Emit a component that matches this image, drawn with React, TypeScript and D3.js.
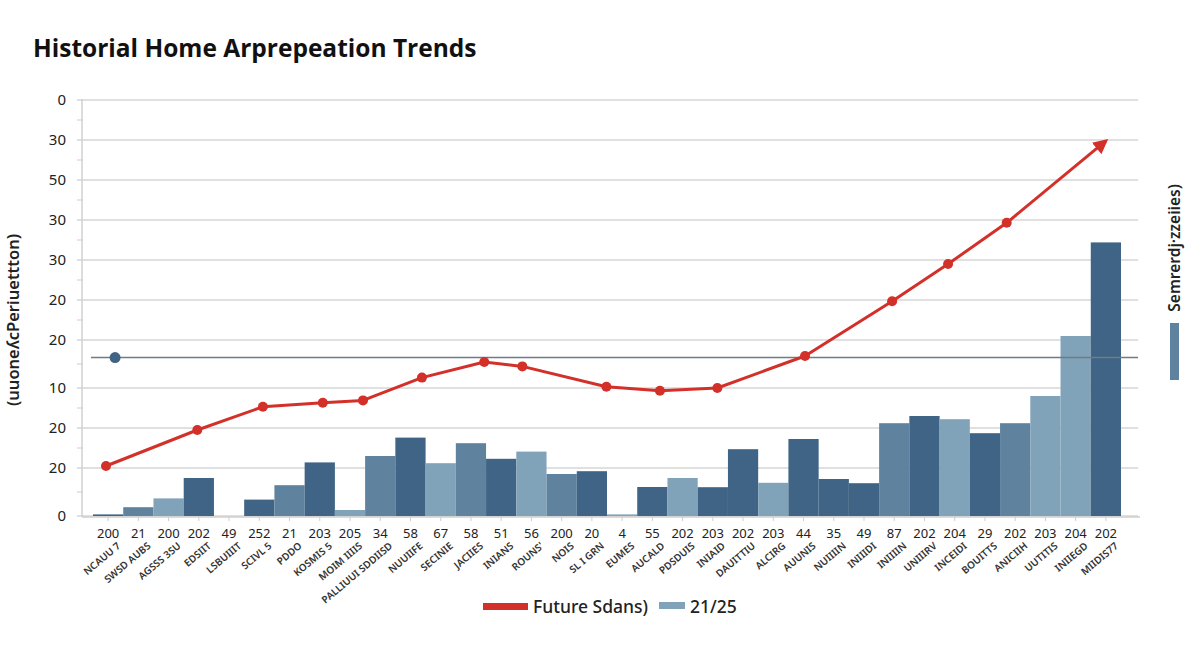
import React from "react";
import * as d3 from "d3";

const topLabels = ["200","21","200","202","49","252","21","203","205","34","58","67","58","51","56","200","20","4","55","202","203","202","203","44","35","49","87","202","204","29","202","203","204","202"];
const subLabels = ["NCAUU 7","SWSD AUBS","AGSSS 3SU","EDSIIT","LSBUIIIT","SCIVL 5","PDDO","KOSMIS 5","MOIM IIIIS","PALLIUUI SDDIISD","NUUIIFE","SECINIE","JACIIES","INIANS","ROUNS'","NOIS","SL I GRN","EUMES","AUCALD","PDSDUIS","INIAID","DAUITTIU","ALCIRG","AUUNIS","NUIIIIN","INIIIDI","INIIIIN","UNIIIRV","INCEIDI","BOUITTS","ANICIIH","UUTITIS","INIIEGD","MIIDIS77"];
const barValues = [0.4,2.2,4.4,9.5,0,4.1,7.7,13.4,1.5,15,19.6,13.2,18.2,14.3,16.1,10.5,11.2,0.4,7.25,9.5,7.2,16.7,8.3,19.25,9.25,8.2,23.2,25,24.2,20.7,23.2,30,45,68.4];
const barGroups = ["A","B","C","A","A","A","B","A","C","B","A","C","B","A","C","B","A","C","A","C","A","A","C","A","A","A","B","A","C","A","B","C","C","A"];
const lineX = [0.43,3.45,5.62,7.6,8.93,10.88,12.94,14.2,16.98,18.75,20.65,23.55,26.43,28.28,30.22];
const lineY = [12.5,21.5,27.3,28.3,28.9,34.6,38.5,37.4,32.3,31.3,32,40,53.7,63,73.3];
const arrowEnd = { x: 33.5, y: 93.8 };
const yTickValues = [0,12,22,32,44,54,64,74,84,94,104];
const yTickLabels = ["0","20","20","10","20","20","30","30","50","30","0"];
const refValue = 39.6;
const refDotX = 0.73;

const W = 1200, H = 654;

export default function App() {
  const x = d3.scaleBand<number>().domain(d3.range(barValues.length)).range([93, 1121]).padding(0);
  const xl = d3.scaleLinear().domain([0, barValues.length]).range([93, 1121]);
  const y = d3.scaleLinear().domain([0, 104]).range([516, 100]);
  const color = d3.scaleOrdinal<string, string>().domain(["A","B","C"]).range(["#3f6485","#5f829f","#80a3b9"]);
  const pts: [number, number][] = lineX.map((v, i) => [xl(v), y(lineY[i])]);
  const line = d3.line();
  const last = pts[pts.length - 1];
  const minor = yTickValues.slice(0, -1).map((v, i) => (y(v) + y(yTickValues[i + 1])) / 2);
  const font = "'Noto Sans', 'Open Sans', sans-serif";
  return (
    <svg width={W} height={H} style={{ display: "block", position: "absolute", left: 0, top: 0 }} fontFamily={font}>
      <defs>
        <marker id="arr" viewBox="0 0 10 10" refX="8" refY="5" markerWidth="5" markerHeight="5" orient="auto">
          <path d="M0,0 L10,5 L0,10 z" fill="#d3302a" />
        </marker>
      </defs>
      <rect width={W} height={H} fill="#fff" />
      <text x={33} y={57} fontSize={24.5} fontWeight={700} fill="#111" fontFamily="'Open Sans', sans-serif">Historial Home Arprepeation Trends</text>

      {yTickValues.map((v) => (
        <line key={"g" + v} x1={77} x2={1138} y1={y(v)} y2={y(v)} stroke="#d6d6d6" strokeWidth={1.5} />
      ))}
      {minor.map((m, i) => (
        <line key={"m" + i} x1={77} x2={83} y1={m} y2={m} stroke="#d6d6d6" strokeWidth={1.2} />
      ))}
      <line x1={82} x2={82} y1={99} y2={517} stroke="#d0d0d0" strokeWidth={1.5} />
      {yTickValues.map((v, i) => (
        <text key={"yl" + i} x={66} y={y(v) + 5} textAnchor="end" fontSize={15} fill="#222">{yTickLabels[i]}</text>
      ))}
      <text transform={`translate(19,320) rotate(-90)`} textAnchor="middle" fontSize={16.5} fontWeight={600} fill="#222">(uuoneʎcPeriuettton)</text>

      {barValues.map((v, i) => (
        <rect key={"b" + i} x={x(i)} y={y(v)} width={x.bandwidth()} height={y(0) - y(v)} fill={color(barGroups[i])} />
      ))}
      <line x1={82} x2={1140} y1={517} y2={517} stroke="#cfcfcf" strokeWidth={1.5} />
      {barValues.map((_, i) => (
        <line key={"t" + i} x1={x(i)! + x.bandwidth() / 2} x2={x(i)! + x.bandwidth() / 2} y1={517} y2={521} stroke="#cfcfcf" />
      ))}
      {topLabels.map((t, i) => (
        <text key={"xl" + i} x={x(i)! + x.bandwidth() / 2} y={538} textAnchor="middle" fontSize={13} fill="#222">{t}</text>
      ))}
      {subLabels.map((t, i) => (
        <text key={"xs" + i} transform={`translate(${x(i)! + x.bandwidth() / 2 + 13},547) rotate(-40)`} textAnchor="end" fontSize={10} fontWeight={600} fill="#333">{t}</text>
      ))}

      <line x1={91} x2={1138} y1={y(refValue)} y2={y(refValue)} stroke="#6f7c87" strokeWidth={1.5} />
      <circle cx={xl(refDotX)} cy={y(refValue)} r={5.5} fill="#3f6485" />

      <path d={line(pts) || ""} fill="none" stroke="#d3302a" strokeWidth={3} strokeLinejoin="round" />
      <line x1={last[0]} y1={last[1]} x2={xl(arrowEnd.x)} y2={y(arrowEnd.y)} stroke="#d3302a" strokeWidth={3} markerEnd="url(#arr)" />
      {pts.map((p, i) => (
        <circle key={"p" + i} cx={p[0]} cy={p[1]} r={5} fill="#d3302a" />
      ))}

      <text transform={`translate(1180,248) rotate(-90)`} textAnchor="middle" fontSize={15.5} fontWeight={600} fill="#222">Semrerdj·zzeiies)</text>
      <rect x={1170} y={323} width={9} height={57} fill="#5f829f" />

      <rect x={483} y={603} width={45} height={7} fill="#d3302a" />
      <text x={533} y={613} fontSize={17.5} fontWeight={500} fill="#222">Future Sdans)</text>
      <rect x={659} y={602} width={26} height={7} fill="#80a3b9" />
      <text x={690} y={613} fontSize={17.5} fontWeight={500} fill="#222">21/25</text>
    </svg>
  );
}
